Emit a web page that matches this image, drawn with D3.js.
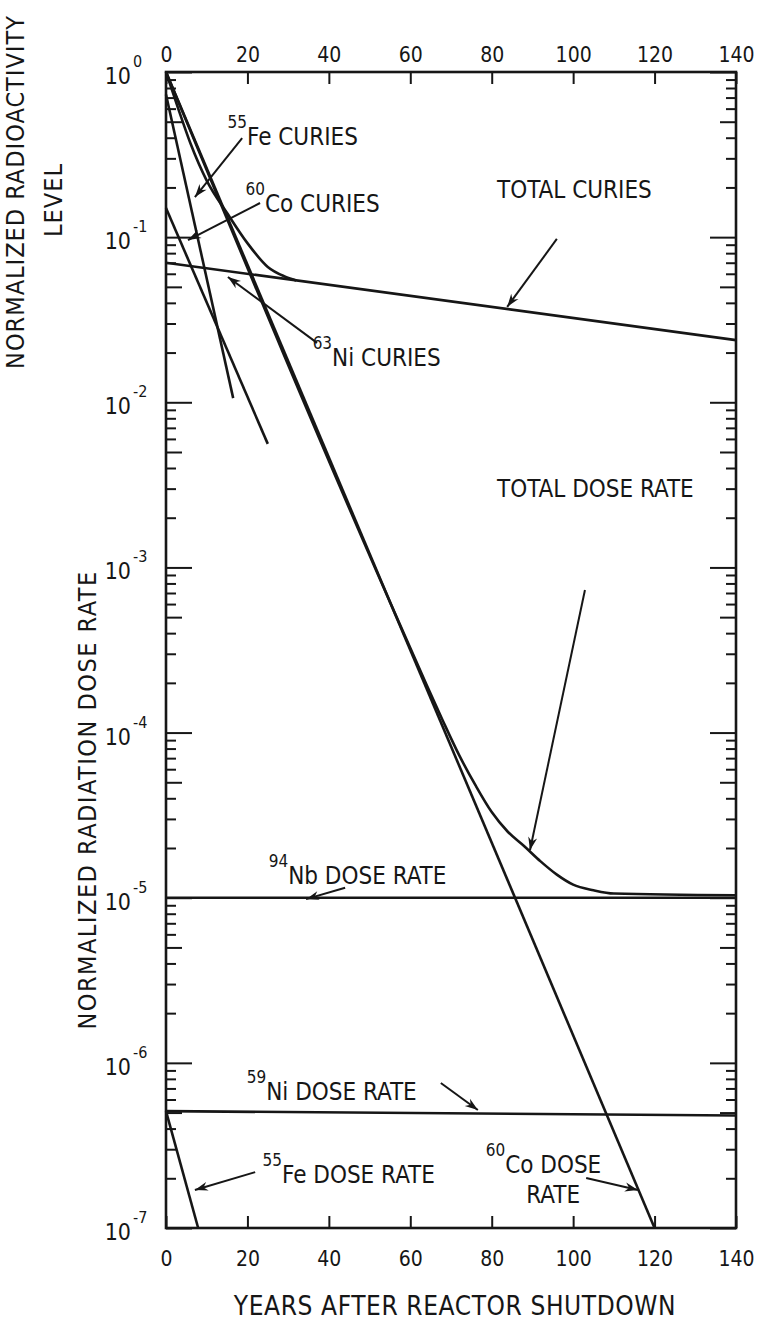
<!DOCTYPE html>
<html>
<head>
<meta charset="utf-8">
<title>Radioactivity after reactor shutdown</title>
<script src="https://cdn.jsdelivr.net/npm/d3@7"></script>
<style>
  body { margin: 0; background: #fff; }
  #chart svg { display: block; }
  #chart text { font-family: "DejaVu Sans Condensed", "DejaVu Sans", sans-serif; font-stretch: condensed; fill: #161616; }
</style>
</head>
<body>
<div id="chart"></div>
<script>
const SVG_WIDTH = 767;
const SVG_HEIGHT = 1323;
const MARGIN = { top: 72, right: 31, bottom: 95, left: 166 };
const WIDTH = SVG_WIDTH - MARGIN.left - MARGIN.right;
const HEIGHT = SVG_HEIGHT - MARGIN.top - MARGIN.bottom;
const INK = "#161616";

// tick values
const X_TICKS = [0, 20, 40, 60, 80, 100, 120, 140];
const Y_EXPONENTS = [0, -1, -2, -3, -4, -5, -6, -7];

// years after shutdown -> normalized level
const FE55_CURIES_YEARS = [0, 16.5];
const FE55_CURIES = [0.73, 0.0106];
const CO60_CURIES_YEARS = [0, 25];
const CO60_CURIES = [0.15, 0.0056];
const NI63_CURIES_YEARS = [0, 140];
const NI63_CURIES = [0.07, 0.0238];
const TOTAL_CURIES_YEARS = [0, 3, 6, 10, 15, 20, 25, 29, 32];
const TOTAL_CURIES = [1.0, 0.6, 0.37, 0.22, 0.14, 0.092, 0.066, 0.058, 0.0547];

const CO60_DOSE_YEARS = [0, 120];
const CO60_DOSE = [1.0, 1e-7];
const NB94_DOSE_YEARS = [0, 140];
const NB94_DOSE = [1e-5, 1e-5];
const NI59_DOSE_YEARS = [0, 140];
const NI59_DOSE = [5.1e-7, 4.8e-7];
const FE55_DOSE_YEARS = [0, 7.9];
const FE55_DOSE = [5.1e-7, 1e-7];
const TOTAL_DOSE_YEARS = [0, 58, 64, 68, 72, 76, 80, 84, 88, 92, 96, 100, 105, 110, 140];
const TOTAL_DOSE = [1.0, 4.2e-4, 1.95e-4, 1.18e-4, 7.3e-5, 4.8e-5, 3.3e-5, 2.5e-5, 2.05e-5,
                    1.66e-5, 1.38e-5, 1.2e-5, 1.11e-5, 1.06e-5, 1.035e-5];

const SERIES = [
    { years: FE55_CURIES_YEARS, values: FE55_CURIES },
    { years: CO60_CURIES_YEARS, values: CO60_CURIES },
    { years: NI63_CURIES_YEARS, values: NI63_CURIES },
    { years: TOTAL_CURIES_YEARS, values: TOTAL_CURIES },
    { years: CO60_DOSE_YEARS, values: CO60_DOSE },
    { years: NB94_DOSE_YEARS, values: NB94_DOSE },
    { years: NI59_DOSE_YEARS, values: NI59_DOSE },
    { years: FE55_DOSE_YEARS, values: FE55_DOSE },
    { years: TOTAL_DOSE_YEARS, values: TOTAL_DOSE }
];

// callouts, in data units: text start, arrow tail, arrow tip
const NOTES = [
    { sup: "55", text: "Fe CURIES", at: [19.9, 0.361], from: [18.7, 0.398], to: [7.1, 0.175] },
    { sup: "60", text: "Co CURIES", at: [24.3, 0.142], from: [23.1, 0.161], to: [5.4, 0.096] },
    { sup: "", text: "TOTAL CURIES", at: [81.3, 0.1726], from: [96.0, 0.0975], to: [83.8, 0.0378] },
    { sup: "63", text: "Ni CURIES", at: [40.8, 0.0166], from: [37.1, 0.0229], to: [15.2, 0.0574] },
    { sup: "", text: "TOTAL DOSE RATE", at: [81.3, 2.67e-3], from: [102.9, 7.3e-4], to: [89.4, 1.94e-5] },
    { sup: "94", text: "Nb DOSE RATE", at: [30, 1.21e-5], from: [44, 1.15e-5], to: [34.4, 9.8e-6] },
    { sup: "59", text: "Ni DOSE RATE", at: [24.6, 5.96e-7], from: [67.5, 7.55e-7], to: [76.6, 5.18e-7] },
    { sup: "55", text: "Fe DOSE RATE", at: [28.5, 1.87e-7], from: [21.9, 2.18e-7], to: [7.1, 1.70e-7] },
    { sup: "60", text: "Co DOSE", text2: "RATE", at: [83.3, 2.15e-7], from: [103.2, 2.01e-7], to: [115.9, 1.70e-7] }
];

const svg = d3.select("#chart")
    .append("svg")
    .attr("width", SVG_WIDTH)
    .attr("height", SVG_HEIGHT);

svg.append("defs").append("marker")
    .attr("id", "head")
    .attr("viewBox", "-14 -6 16 12")
    .attr("markerUnits", "userSpaceOnUse")
    .attr("markerWidth", 16)
    .attr("markerHeight", 12)
    .attr("refX", 0)
    .attr("refY", 0)
    .attr("orient", "auto")
    .append("path")
    .attr("d", "M0,0 L-13,-4.5 L-9,0 L-13,4.5 Z")
    .attr("fill", INK);

const g = svg.append("g")
    .attr("transform", `translate(${MARGIN.left},${MARGIN.top})`);

const x = d3.scaleLinear().domain([0, 140]).range([0, WIDTH]);
const y = d3.scaleLog().domain([1e-7, 1]).range([HEIGHT, 0]);

// minor tick positions 1..9 in every decade
const yTickValues = [];
Y_EXPONENTS.slice(1).forEach(e => {
    for (let m = 1; m <= 9; m++) yTickValues.push(m * Math.pow(10, e));
});
yTickValues.push(1);

const tickLen = d => {
    const m = Math.round(d / Math.pow(10, Math.floor(Math.log10(d) + 1e-9)));
    if (m === 1) return 26;
    if (m === 5) return 16;
    return 10;
};

// x axes, ticks pointing in
g.append("g")
    .attr("class", "x-axis bottom")
    .attr("transform", `translate(0,${HEIGHT})`)
    .call(d3.axisBottom(x).tickValues(X_TICKS).tickSizeInner(-12).tickSizeOuter(0).tickPadding(23))
    .call(a => a.select(".domain").remove())
    .call(a => a.selectAll("text").style("font-size", "21px"))
    .call(a => a.selectAll("line").attr("stroke", INK).attr("stroke-width", 2));

g.append("g")
    .attr("class", "x-axis top")
    .call(d3.axisTop(x).tickValues(X_TICKS).tickSizeInner(-12).tickSizeOuter(0).tickPadding(10))
    .call(a => a.select(".domain").remove())
    .call(a => a.selectAll("text").style("font-size", "21px"))
    .call(a => a.selectAll("line").attr("stroke", INK).attr("stroke-width", 2));

// y axes, ticks pointing in
g.append("g")
    .attr("class", "y-axis left")
    .call(d3.axisLeft(y).tickValues(yTickValues).tickFormat("").tickSizeOuter(0))
    .call(a => a.select(".domain").remove())
    .call(a => a.selectAll(".tick line").attr("x2", d => tickLen(d)).attr("stroke", INK).attr("stroke-width", 2));

g.append("g")
    .attr("class", "y-axis right")
    .attr("transform", `translate(${WIDTH},0)`)
    .call(d3.axisRight(y).tickValues(yTickValues).tickFormat("").tickSizeOuter(0))
    .call(a => a.select(".domain").remove())
    .call(a => a.selectAll(".tick line").attr("x2", d => -tickLen(d)).attr("stroke", INK).attr("stroke-width", 2));

// 10^n labels
const yLabels = g.append("g").attr("class", "y-labels");
Y_EXPONENTS.forEach(e => {
    const yy = y(Math.pow(10, e));
    yLabels.append("text")
        .attr("x", -35).attr("y", yy + 12)
        .attr("text-anchor", "end")
        .style("font-size", "23px")
        .text("10");
    yLabels.append("text")
        .attr("x", -33).attr("y", yy - 5)
        .style("font-size", "16px")
        .text(e === 0 ? "0" : "-" + Math.abs(e));
});

// frame
g.append("rect")
    .attr("width", WIDTH).attr("height", HEIGHT)
    .attr("fill", "none").attr("stroke", INK).attr("stroke-width", 2.6);

// curves
const line = d3.line()
    .x(d => x(d[0]))
    .y(d => y(d[1]))
    .curve(d3.curveMonotoneX);

g.append("g")
    .attr("class", "curves")
    .selectAll("path")
    .data(SERIES)
    .join("path")
    .attr("d", s => line(s.years.map((yr, i) => [yr, s.values[i]])))
    .attr("fill", "none")
    .attr("stroke", INK)
    .attr("stroke-width", 2.6)
    .attr("stroke-linejoin", "round");

// callouts
const notes = g.append("g").attr("class", "notes");
NOTES.forEach(n => {
    notes.append("line")
        .attr("x1", x(n.from[0])).attr("y1", y(n.from[1]))
        .attr("x2", x(n.to[0])).attr("y2", y(n.to[1]))
        .attr("stroke", INK).attr("stroke-width", 2)
        .attr("marker-end", "url(#head)");

    const tx = x(n.at[0]);
    const ty = y(n.at[1]);
    const main = notes.append("text")
        .attr("x", tx).attr("y", ty)
        .style("font-size", "24px")
        .text(n.text);
    if (n.sup) {
        notes.append("text")
            .attr("x", tx).attr("y", ty - 17)
            .attr("text-anchor", "end")
            .style("font-size", "17px")
            .text(n.sup);
    }
    if (n.text2) {
        const w = main.node().getComputedTextLength();
        notes.append("text")
            .attr("x", tx + w / 2).attr("y", ty + 30)
            .attr("text-anchor", "middle")
            .style("font-size", "24px")
            .text(n.text2);
    }
});

// axis titles
svg.append("text")
    .attr("x", MARGIN.left + WIDTH / 2 + 4)
    .attr("y", 1315)
    .attr("text-anchor", "middle")
    .style("font-size", "26px")
    .style("letter-spacing", "0.6px")
    .text("YEARS AFTER REACTOR SHUTDOWN");

svg.append("text")
    .attr("transform", "translate(24,192) rotate(-90)")
    .attr("text-anchor", "middle")
    .style("font-size", "25px")
    .style("letter-spacing", "1px")
    .text("NORMALIZED RADIOACTIVITY");

svg.append("text")
    .attr("transform", "translate(62,200) rotate(-90)")
    .attr("text-anchor", "middle")
    .style("font-size", "25px")
    .style("letter-spacing", "1px")
    .text("LEVEL");

svg.append("text")
    .attr("transform", "translate(96,800) rotate(-90)")
    .attr("text-anchor", "middle")
    .style("font-size", "25px")
    .style("letter-spacing", "1.5px")
    .text("NORMALIZED RADIATION DOSE RATE");
</script>
</body>
</html>
